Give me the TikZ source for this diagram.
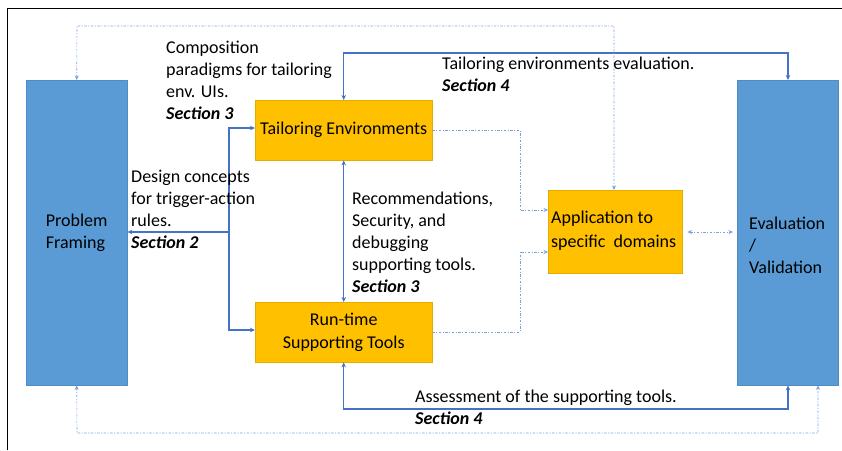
\documentclass[tikz,border=0pt]{standalone}
\usepackage{fontspec}
\setmainfont{Carlito}
\usetikzlibrary{arrows.meta}
\definecolor{boxblue}{HTML}{5B9BD5}
\definecolor{boxorange}{HTML}{FFC000}
\definecolor{lineblue}{HTML}{4472C4}
\definecolor{dashblue}{HTML}{7AA3DE}
\tikzset{
  x=1pt,y=-1pt,
  every node/.style={font=\fontsize{18}{22}\selectfont},
  bluebox/.style={draw=boxblue!90!black,line width=0.4pt,fill=boxblue,anchor=north west,inner sep=0pt},
  orangebox/.style={draw=boxorange!90!black,line width=0.4pt,fill=boxorange,anchor=north west,inner sep=0pt},
  lbl/.style={anchor=north west,align=left,inner sep=0pt},
  solidarrow/.style={draw=lineblue,line width=1.1pt,-{Stealth[length=5pt,width=4.5pt]}},
  solidboth/.style={draw=lineblue,line width=1.1pt,{Stealth[length=5pt,width=4.5pt]}-{Stealth[length=5pt,width=4.5pt]}},
  dashline/.style={draw=dashblue,line width=0.6pt,dash pattern=on 2.5pt off 1.5pt on 1pt off 1.5pt},
  dasharrow/.style={dashline,-{Stealth[length=4.5pt,width=4pt]}},
  dashboth/.style={dashline,{Stealth[length=4.5pt,width=4pt]}-{Stealth[length=4.5pt,width=4pt]}}
}
\begin{document}
\begin{tikzpicture}
\useasboundingbox (0,0) rectangle (842,450);
% page frame
\draw[black,line width=0.8pt] (7,450) -- (7,8) -- (842,8);

% boxes
\node[bluebox,minimum width=101pt,minimum height=305pt] (pf) at (26,80) {};
\node[align=left] at (pf.center) {Problem\\Framing};
\node[bluebox,minimum width=101pt,minimum height=305pt] (ev) at (737,80) {};
\node[lbl] at (749,217) {Evaluation\\/\\Validation};
\node[orangebox,minimum width=177pt,minimum height=60pt] (te) at (255,100) {Tailoring Environments};
\node[orangebox,minimum width=177pt,minimum height=60pt,align=center,font=\fontsize{18}{23}\selectfont] (rt) at (255,302) {Run-time\\Supporting Tools};
\node[orangebox,minimum width=134pt,minimum height=83pt] (ap) at (548,190) {};
\node[lbl,font=\fontsize{18}{24}\selectfont] at (551,211) {Application to\\specific\ \ domains};

% coordinates
\coordinate (j) at (229,232);
\coordinate (tl) at (229,128);
\coordinate (rl) at (229,330);

% solid connectors
\draw[solidarrow] (j) -- (pf.east |- j);
\draw[solidarrow] (j) -- (tl) -- (te.west |- tl);
\draw[solidarrow] (j) -- (rl) -- (rt.west |- rl);
\draw[solidboth] (te.south) -- (rt.north);
\draw[solidboth] (te.north) |- (345,53) -| (ev.north -| 788,0);
\draw[solidboth] (rt.south) |- (345,409) -| (ev.south -| 788,0);

% dashed connectors
\draw[dashboth] (pf.north) -- (77,26) -| (ap.north -| 614,0);
\draw[dashboth] (pf.south) -- (77,433) -| (ev.south -| 818,0);
\draw[dasharrow] (te.east |- 0,130) -| (520,210) -- (ap.west |- 0,210);
\draw[dasharrow] (rt.east |- 0,332) -| (520,252) -- (ap.west |- 0,252);
\draw[dashboth] ([xshift=5pt]ap.east |- 0,232) -- ([xshift=-4pt]ev.west |- 0,232);

% labels
\node[lbl] (l1) at (166,41) {Composition\\paradigms for tailoring\\env. UIs.\\\textbf{\textit{Section 3}}};
\node[lbl] (l2) at (442,57) {Tailoring environments evaluation.\\\textbf{\textit{Section 4}}};
\node[lbl] (l3) at (131,170) {Design concepts\\for trigger-action\\rules.\\\textbf{\textit{Section 2}}};
\node[lbl] (l4) at (352,192) {Recommendations,\\Security, and\\debugging\\supporting tools.\\\textbf{\textit{Section 3}}};
\node[lbl] (l5) at (415,390) {Assessment of the supporting tools.\\\textbf{\textit{Section 4}}};
\end{tikzpicture}
\end{document}
